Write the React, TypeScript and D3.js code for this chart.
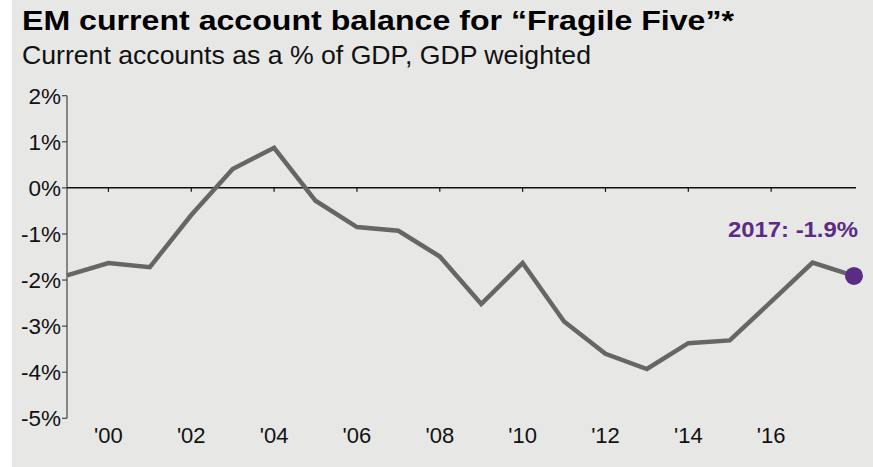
import React from "react";
import * as d3 from "d3";

const years = [1999, 2000, 2001, 2002, 2003, 2004, 2005, 2006, 2007, 2008, 2009, 2010, 2011, 2012, 2013, 2014, 2015, 2016, 2017, 2018];
const values = [-1.9, -1.63, -1.72, -0.59, 0.41, 0.87, -0.28, -0.85, -0.93, -1.49, -2.52, -1.63, -2.9, -3.6, -3.93, -3.37, -3.31, -2.47, -1.62, -1.91];
const yTicks = [2, 1, 0, -1, -2, -3, -4, -5];
const xTickYears = [2000, 2002, 2004, 2006, 2008, 2010, 2012, 2014, 2016];
const xTickLabels = ["'00", "'02", "'04", "'06", "'08", "'10", "'12", "'14", "'16"];
const title = "EM current account balance for \u201cFragile Five\u201d*";
const subtitle = "Current accounts as a % of GDP, GDP weighted";
const annotation = "2017: -1.9%";

const W = 873;
const H = 467;
const FONT = "'Liberation Sans', Arial, Helvetica, sans-serif";

export default function App() {
  const x = d3.scaleLinear().domain([1999, 2018]).range([67, 854]);
  const y = d3.scaleLinear().domain([-5, 2]).range([418.3, 95.7]);
  const line = d3
    .line<number>()
    .x((_, i) => x(years[i]))
    .y((d) => y(d));
  const lastIdx = values.length - 1;

  return (
    <div style={{ position: "absolute", left: 0, top: 0 }}>
      <svg width={W} height={H} style={{ display: "block" }}>
        <rect x={0} y={0} width={W} height={H} fill="#ffffff" />
        <rect x={12} y={0} width={W - 12} height={H} fill="#e7e7e6" />
        <text
          x={22}
          y={29.5}
          fontFamily={FONT}
          fontWeight="bold"
          fontSize={28}
          fill="#000"
          textLength={712}
          lengthAdjust="spacingAndGlyphs"
        >
          {title}
        </text>
        <text
          x={22}
          y={63.5}
          fontFamily={FONT}
          fontSize={25}
          fill="#111"
          textLength={569}
          lengthAdjust="spacingAndGlyphs"
        >
          {subtitle}
        </text>
        {/* y axis */}
        <line x1={67} x2={67} y1={y(2)} y2={y(-5)} stroke="#444" strokeWidth={1.2} />
        {yTicks.map((t) => (
          <g key={t}>
            <line x1={62} x2={67} y1={y(t)} y2={y(t)} stroke="#444" strokeWidth={1.2} />
            <text
              x={61}
              y={y(t)}
              dy="0.36em"
              textAnchor="end"
              fontFamily={FONT}
              fontSize={22.5}
              fill="#111"
            >
              {t + "%"}
            </text>
          </g>
        ))}
        {/* zero line */}
        <line x1={67} x2={856} y1={y(0)} y2={y(0)} stroke="#111" strokeWidth={1.5} />
        {xTickYears.map((yr, i) => (
          <g key={yr}>
            <line x1={x(yr)} x2={x(yr)} y1={y(0)} y2={y(0) + 4} stroke="#111" strokeWidth={1.2} />
            <text
              x={x(yr)}
              y={443}
              textAnchor="middle"
              fontFamily={FONT}
              fontSize={22}
              fill="#111"
            >
              {xTickLabels[i]}
            </text>
          </g>
        ))}
        <path
          d={line(values) || ""}
          fill="none"
          stroke="#666666"
          strokeWidth={4.5}
          strokeLinejoin="miter"
        />
        <circle cx={x(years[lastIdx])} cy={y(values[lastIdx])} r={9} fill="#5b2c86" />
        <text
          x={728}
          y={237}
          fontFamily={FONT}
          fontWeight="bold"
          fontSize={22}
          fill="#5b2c86"
          textLength={130}
          lengthAdjust="spacingAndGlyphs"
        >
          {annotation}
        </text>
      </svg>
    </div>
  );
}
